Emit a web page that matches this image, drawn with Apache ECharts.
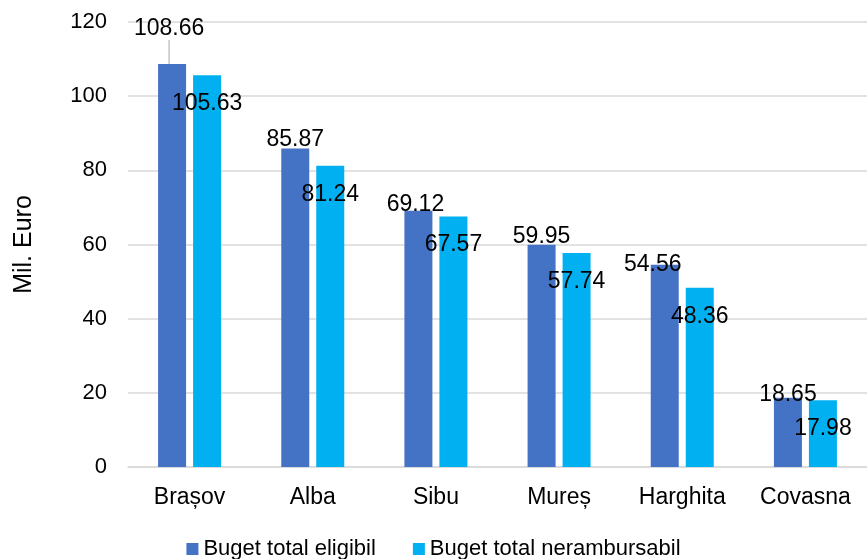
<!DOCTYPE html>
<html>
<head>
<meta charset="utf-8">
<script src="https://cdn.jsdelivr.net/npm/echarts@6/dist/echarts.min.js"></script>
<style>
  html, body { margin: 0; padding: 0; background: #fff; }
  #chart { width: 867px; height: 559px; }
</style>
</head>
<body>
<div id="chart"></div>
<script>
  // judete
  var categories = ['Brașov', 'Alba', 'Sibu', 'Mureș', 'Harghita', 'Covasna'];
  var eligibil = [108.66, 85.87, 69.12, 59.95, 54.56, 18.65];
  var nerambursabil = [105.63, 81.24, 67.57, 57.74, 48.36, 17.98];
  var yTicks = [0, 20, 40, 60, 80, 100, 120];

  var font = 'Arial, "Liberation Sans", sans-serif';

  // eticheta mutate manual (ca in Excel)
  function moveEligibil(p) {
    switch (p.dataIndex) {
      case 0: return {dy: -27, dx: -3};
      case 2: return {dy: 2, dx: -3};
      case 4: return {dy: 8, dx: -12};
      case 5: return {dy: 5};
    }
    return {};
  }

  var chart = echarts.init(document.getElementById('chart'));
  chart.setOption({
    animation: false,
    grid: {left: 128, right: 0, top: 22, bottom: 92},
    legend: {
      data: ['Buget total eligibil', 'Buget total nerambursabil'],
      bottom: -6,
      left: 'center',
      icon: 'rect',
      itemWidth: 12,
      itemHeight: 12,
      itemGap: 37,
      textStyle: {fontFamily: font, fontSize: 22, color: '#000'}
    },
    xAxis: {
      type: 'category',
      data: categories,
      axisTick: {show: false},
      axisLine: {lineStyle: {color: '#d9d9d9', width: 1.5}},
      axisLabel: {fontFamily: font, fontSize: 23, color: '#000', margin: 19}
    },
    yAxis: {
      type: 'value',
      min: yTicks[0],
      max: yTicks[yTicks.length - 1],
      interval: 20,
      name: 'Mil. Euro',
      nameLocation: 'middle',
      nameGap: 91,
      nameTextStyle: {fontFamily: font, fontSize: 25, color: '#000'},
      axisLabel: {fontFamily: font, fontSize: 22, color: '#000', margin: 21},
      splitLine: {lineStyle: {color: '#d9d9d9', width: 1.5}}
    },
    series: [
      {
        name: 'Buget total eligibil',
        type: 'bar',
        data: eligibil,
        barWidth: 28,
        barGap: '25%',
        itemStyle: {color: '#4472C4'},
        label: {
          show: true,
          position: 'top',
          distance: -3,
          fontFamily: font,
          fontSize: 23,
          color: '#000'
        },
        labelLine: {show: true, lineStyle: {color: '#a6a6a6', width: 1}},
        labelLayout: moveEligibil
      },
      {
        name: 'Buget total nerambursabil',
        type: 'bar',
        data: nerambursabil,
        barWidth: 28,
        itemStyle: {color: '#00B0F0'},
        label: {
          show: true,
          position: 'insideTop',
          offset: [0, 12],
          fontFamily: font,
          fontSize: 23,
          color: '#000'
        }
      }
    ]
  });
</script>
</body>
</html>
